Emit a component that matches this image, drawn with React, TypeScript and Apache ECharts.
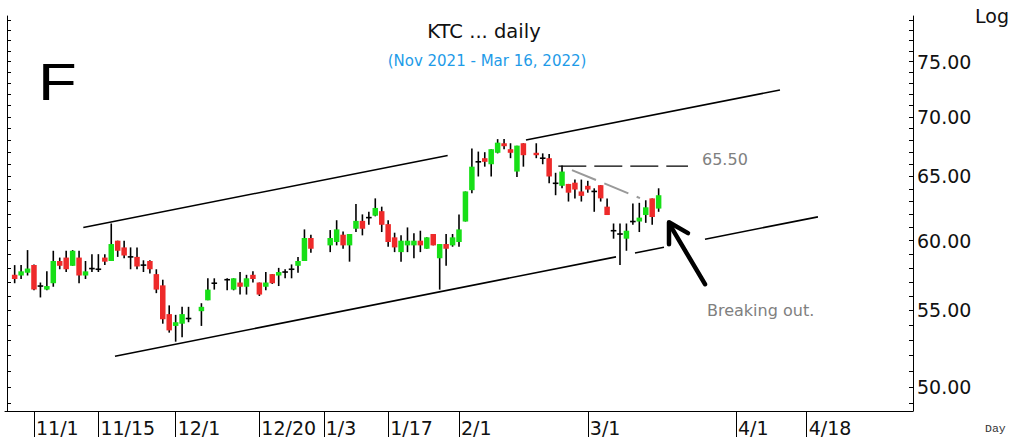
import React, { useEffect, useRef } from "react";
import * as echarts from "echarts";

// ---- data ----
const tradeDates = [
  "2021-10-27", "2021-10-28", "2021-10-29", "2021-11-01", "2021-11-02", "2021-11-03", "2021-11-04", "2021-11-05",
  "2021-11-08", "2021-11-09", "2021-11-10", "2021-11-11", "2021-11-12", "2021-11-15", "2021-11-16", "2021-11-17",
  "2021-11-18", "2021-11-19", "2021-11-22", "2021-11-23", "2021-11-24", "2021-11-25", "2021-11-26", "2021-11-29",
  "2021-11-30", "2021-12-01", "2021-12-02", "2021-12-03", "2021-12-07", "2021-12-08", "2021-12-09", "2021-12-13",
  "2021-12-14", "2021-12-15", "2021-12-16", "2021-12-17", "2021-12-20", "2021-12-21", "2021-12-22", "2021-12-23",
  "2021-12-24", "2021-12-27", "2021-12-28", "2021-12-29", "2021-12-30", "2022-01-04", "2022-01-05", "2022-01-06",
  "2022-01-07", "2022-01-10", "2022-01-11", "2022-01-12", "2022-01-13", "2022-01-14", "2022-01-17", "2022-01-18",
  "2022-01-19", "2022-01-20", "2022-01-21", "2022-01-24", "2022-01-25", "2022-01-26", "2022-01-27", "2022-01-28",
  "2022-01-31", "2022-02-01", "2022-02-02", "2022-02-03", "2022-02-04", "2022-02-07", "2022-02-08", "2022-02-09",
  "2022-02-10", "2022-02-11", "2022-02-14", "2022-02-15", "2022-02-17", "2022-02-18", "2022-02-21", "2022-02-22",
  "2022-02-23", "2022-02-24", "2022-02-25", "2022-02-28", "2022-03-01", "2022-03-02", "2022-03-03", "2022-03-04",
  "2022-03-07", "2022-03-08", "2022-03-09", "2022-03-10", "2022-03-11", "2022-03-14", "2022-03-15", "2022-03-16",
];
const openPrices = [
  57.5, 57.45, 57.65, 58.2, 56.7, 56.45, 56.9, 58.5,
  58.75, 58.15, 58.75, 57.45, 57.95, 57.9, 58.75, 58.5,
  60.0, 59.5, 58.8, 58.8, 58.2, 58.5, 57.55, 56.75,
  54.75, 53.95, 54.1, 54.45, 54.95, 55.7, 56.9, 57.15,
  56.45, 56.95, 56.65, 57.5, 56.95, 56.65, 57.55, 57.45,
  57.7, 57.9, 58.15, 58.5, 60.2, 59.65, 59.9, 60.45,
  59.65, 60.9, 61.5, 61.75, 61.9, 62.25, 61.25, 60.25,
  59.15, 59.65, 59.65, 60.0, 59.4, 60.5, 58.7, 59.75,
  59.65, 59.9, 61.45, 63.9, 66.2, 66.5, 66.0, 66.95,
  67.75, 67.25, 65.4, 67.75, 66.95, 66.5, 66.5, 64.45,
  64.25, 64.4, 64.5, 63.8, 64.25, 63.8, 64.3, 62.6,
  60.75, 60.5, 60.15, 61.45, 61.45, 61.95, 63.25, 62.45,
];
const highPrices = [
  58.2, 58.2, 59.3, 58.25, 56.95, 57.75, 59.25, 58.75,
  59.25, 59.3, 59.25, 58.5, 59.0, 59.0, 59.0, 61.3,
  60.0, 60.0, 59.5, 59.5, 58.55, 58.55, 57.9, 57.15,
  55.35, 54.7, 55.25, 55.25, 55.5, 57.25, 57.25, 57.25,
  57.25, 57.7, 57.5, 57.75, 56.95, 57.7, 57.55, 58.0,
  57.9, 58.25, 58.8, 60.85, 60.45, 60.8, 61.55, 60.7,
  60.5, 62.8, 62.0, 62.2, 63.25, 62.6, 61.55, 60.6,
  60.4, 61.0, 60.55, 60.75, 60.25, 60.5, 59.75, 60.5,
  60.5, 62.0, 63.8, 67.3, 67.05, 67.0, 67.25, 68.1,
  68.1, 67.75, 67.55, 67.75, 67.75, 66.9, 66.85, 65.3,
  65.9, 64.4, 64.75, 64.75, 64.65, 64.05, 64.3, 63.25,
  61.3, 61.3, 61.3, 62.85, 62.9, 63.1, 63.25, 64.05,
];
const lowPrices = [
  56.9, 57.2, 57.45, 56.4, 55.9, 56.4, 56.65, 57.9,
  57.7, 58.15, 56.9, 57.2, 57.7, 57.7, 58.2, 58.5,
  58.8, 58.7, 57.9, 57.9, 57.7, 57.6, 56.2, 54.1,
  53.5, 52.9, 53.2, 54.2, 53.95, 55.7, 56.45, 56.4,
  56.4, 56.1, 56.1, 56.95, 56.0, 56.4, 56.85, 56.7,
  57.25, 57.25, 57.65, 58.5, 59.1, 59.15, 59.65, 59.4,
  58.45, 60.65, 60.4, 61.2, 61.85, 60.65, 59.55, 59.15,
  58.45, 59.15, 58.7, 59.15, 59.4, 59.65, 56.45, 58.15,
  59.55, 59.55, 61.45, 63.65, 65.0, 65.8, 65.0, 66.9,
  67.25, 66.5, 64.95, 65.8, 66.5, 66.0, 64.45, 63.5,
  64.05, 63.0, 63.25, 63.0, 63.7, 62.2, 63.0, 61.95,
  60.15, 58.2, 59.25, 61.2, 60.65, 61.35, 61.2, 62.2,
];
const closePrices = [
  57.2, 57.75, 57.95, 56.45, 56.7, 56.7, 58.5, 58.15,
  57.9, 59.25, 57.45, 57.75, 57.95, 57.9, 58.45, 59.75,
  59.25, 58.9, 58.8, 58.1, 58.2, 57.9, 56.45, 54.4,
  53.65, 54.2, 54.75, 54.45, 55.25, 56.45, 56.9, 57.15,
  57.25, 56.65, 57.25, 57.2, 56.1, 56.95, 56.9, 57.7,
  57.7, 57.9, 58.5, 60.2, 59.4, 60.2, 60.85, 59.65,
  60.5, 61.5, 60.9, 61.75, 62.5, 61.2, 59.9, 59.5,
  60.0, 60.0, 60.0, 59.65, 60.25, 59.65, 59.75, 59.4,
  60.25, 60.85, 63.8, 65.8, 66.2, 66.2, 67.25, 67.8,
  67.5, 66.95, 67.55, 66.75, 66.75, 66.5, 65.0, 64.45,
  65.4, 63.7, 63.95, 63.45, 63.95, 63.8, 63.25, 61.95,
  60.75, 60.5, 60.75, 61.45, 61.75, 62.55, 61.8, 63.5,
];

// axis: one slot per weekday, from the first slot to the last
const axisFirstDay = "2021-10-26";
const axisSlotCount = 141;
const tickDates = [
  "2021-11-01", "2021-11-15", "2021-12-01", "2021-12-20", "2022-01-03",
  "2022-01-17", "2022-02-01", "2022-03-01", "2022-04-01", "2022-04-18",
];
const tickTexts = ["11/1", "11/15", "12/1", "12/20", "1/3", "1/17", "2/1", "3/1", "4/1", "4/18"];
const priceLabels = [50, 55, 60, 65, 70, 75];
const priceTicks = [
  49, 50, 51, 52, 53, 54, 55, 56, 57, 58, 59, 60, 61, 62, 63, 64,
  65, 66, 67, 68, 69, 70, 71, 72, 73, 74, 75, 76, 77, 78, 79,
];
const priceMin = 48.52;
const priceMax = 79.4;

// drawn annotations, as [slot index, price]
const upperChannel = [
  [[11.66, 61.0], [68.24, 66.73]],
  [[80.4, 68.02], [119.84, 72.4]],
];
const lowerChannel = [
  [[16.58, 51.95], [94.38, 58.8]],
  [[97.33, 59.08], [101.83, 59.51]],
  [[108.2, 60.11], [125.74, 61.81]],
];
const resistanceLine = [[85.42, 65.85], [105.56, 65.85]];
const fadingTrend = [[87.54, 65.52], [98.1, 63.27]];
const arrowShaft = [[108.2, 56.83], [102.75, 61.2]];
const arrowHead = [[102.61, 59.74], [102.61, 61.4], [105.56, 60.57]];

const GREEN = "#17df17";
const RED = "#ee2a2a";
const FONT = "DejaVu Sans";

function weekdaySlots(start: string, n: number): string[] {
  const out: string[] = [];
  const d = new Date(start + "T00:00:00Z");
  while (out.length < n) {
    const w = d.getUTCDay();
    if (w !== 0 && w !== 6) out.push(d.toISOString().slice(0, 10));
    d.setUTCDate(d.getUTCDate() + 1);
  }
  return out;
}

function label(text: string, x: number, y: number, font: string, size: number, fill: string, align = "left", extra: any = {}) {
  return {
    type: "text",
    x,
    y,
    ...extra,
    style: {
      text,
      fontFamily: font,
      fontSize: size,
      fill,
      align,
      verticalAlign: "middle",
      textAlign: align,
      textVerticalAlign: "middle",
    },
  };
}

export default function App() {
  const ref = useRef<HTMLDivElement>(null);

  useEffect(() => {
    if (!ref.current) return;
    const chart = echarts.init(ref.current, undefined, { renderer: "svg" });
    const categories = weekdaySlots(axisFirstDay, axisSlotCount);
    const tickSet = new Map<string, string>();
    tickDates.forEach((d, i) => tickSet.set(d, tickTexts[i]));
    const ln = (p: number) => Math.log(p);
    const pt = (p: number[]) => [p[0], ln(p[1])];

    const candleData = tradeDates.map((d, i) => [
      d,
      ln(openPrices[i]),
      ln(highPrices[i]),
      ln(lowPrices[i]),
      ln(closePrices[i]),
    ]);

    const lineSeries = (pts: number[][], style: any, z = 3) => ({
      type: "line",
      xAxisIndex: 1,
      yAxisIndex: 0,
      data: pts.map(pt),
      symbol: "none",
      silent: true,
      animation: false,
      z,
      lineStyle: style,
    });

    const channelStyle = { color: "#000", width: 1.6 };
    const series: any[] = [
      {
        type: "custom",
        xAxisIndex: 0,
        yAxisIndex: 0,
        data: candleData,
        dimensions: ["date", "open", "high", "low", "close"],
        encode: { x: 0, y: [1, 2, 3, 4] },
        clip: false,
        z: 5,
        renderItem: (params: any, api: any) => {
          const i = api.value(0);
          const o = api.value(1);
          const h = api.value(2);
          const l = api.value(3);
          const c = api.value(4);
          const pO = api.coord([i, o]);
          const x = pO[0];
          const yO = pO[1];
          const yH = api.coord([i, h])[1];
          const yL = api.coord([i, l])[1];
          const yC = api.coord([i, c])[1];
          const children: any[] = [
            {
              type: "line",
              shape: { x1: x, y1: yH, x2: x, y2: yL },
              style: { stroke: "#000", lineWidth: 1.6 },
            },
          ];
          if (Math.abs(o - c) < 1e-9) {
            children.push({
              type: "line",
              shape: { x1: x - 2.8, y1: yO, x2: x + 2.8, y2: yO },
              style: { stroke: "#000", lineWidth: 1.6 },
            });
          } else {
            children.push({
              type: "rect",
              shape: {
                x: x - 2.75,
                y: Math.min(yO, yC),
                width: 5.5,
                height: Math.max(1, Math.abs(yO - yC)),
              },
              style: { fill: c > o ? GREEN : RED, stroke: null },
            });
          }
          return { type: "group", children };
        },
      },
      ...upperChannel.map((s) => lineSeries(s, channelStyle)),
      ...lowerChannel.map((s) => lineSeries(s, channelStyle)),
      lineSeries(resistanceLine, { color: "#000", width: 1.2, type: [28, 8] }),
      lineSeries(fadingTrend, { color: "#999", width: 2, type: [26, 9] }),
      lineSeries(arrowShaft, { color: "#000", width: 4.5, cap: "round" }, 6),
      lineSeries(arrowHead, { color: "#000", width: 4.5, cap: "round", join: "round" }, 6),
    ];

    const yBase = {
      type: "value",
      min: ln(priceMin),
      max: ln(priceMax),
      splitLine: { show: false },
      axisLine: { show: true, onZero: false, lineStyle: { color: "#000", width: 1 } },
      axisTick: {
        show: true,
        inside: true,
        length: 4,
        customValues: priceTicks.map(ln),
        lineStyle: { color: "#000", width: 1 },
      },
    };

    chart.setOption({
      animation: false,
      backgroundColor: "#fff",
      grid: {
        left: 5,
        right: 100,
        top: 16,
        bottom: 33,
        containLabel: false,
        outerBoundsMode: "none",
      },
      xAxis: [
        {
          type: "category",
          data: categories,
          boundaryGap: true,
          axisLine: { show: true, onZero: false, lineStyle: { color: "#000", width: 1 } },
          axisTick: {
            show: true,
            alignWithLabel: true,
            length: 26,
            interval: (idx: number, val: string) => tickSet.has(val),
            lineStyle: { color: "#000", width: 1 },
          },
          axisLabel: {
            show: true,
            interval: (idx: number, val: string) => tickSet.has(val),
            formatter: (val: string) => tickSet.get(val) || "",
            align: "left",
            verticalAlign: "middle",
            margin: 17,
            padding: [0, 0, 0, 2],
            fontFamily: FONT,
            fontSize: 19,
            color: "#111",
          },
          splitLine: { show: false },
        },
        {
          type: "value",
          min: -0.5,
          max: axisSlotCount - 0.5,
          show: false,
        },
      ],
      yAxis: [
        {
          ...yBase,
          position: "right",
          axisLabel: {
            show: true,
            customValues: priceLabels.map(ln),
            formatter: (v: number) => Math.exp(v).toFixed(2),
            margin: 4,
            fontFamily: FONT,
            fontSize: 19,
            color: "#111",
          },
        },
        {
          ...yBase,
          position: "left",
          offset: -2,
          axisLabel: { show: false },
        },
      ],
      graphic: [
        label("KTC ... daily", 484, 31, FONT, 19.5, "#111", "center"),
        label("(Nov 2021 - Mar 16, 2022)", 487, 61, FONT, 15, "#1e9be8", "center"),
        label("F", 38, 82, "Liberation Sans", 52, "#000", "left", { scaleX: 1.22 }),
        label("Log", 975, 16, FONT, 19, "#111"),
        label("Day", 985, 428, "Liberation Mono", 11.5, "#333"),
        label("65.50", 702, 159, FONT, 16, "#808080"),
        label("Breaking out.", 707, 310, FONT, 16, "#808080"),
      ],
      series,
    });

    return () => chart.dispose();
  }, []);

  return (
    <div
      ref={ref}
      style={{ position: "fixed", left: 0, top: 0, width: 1013, height: 444, background: "#fff" }}
    />
  );
}
